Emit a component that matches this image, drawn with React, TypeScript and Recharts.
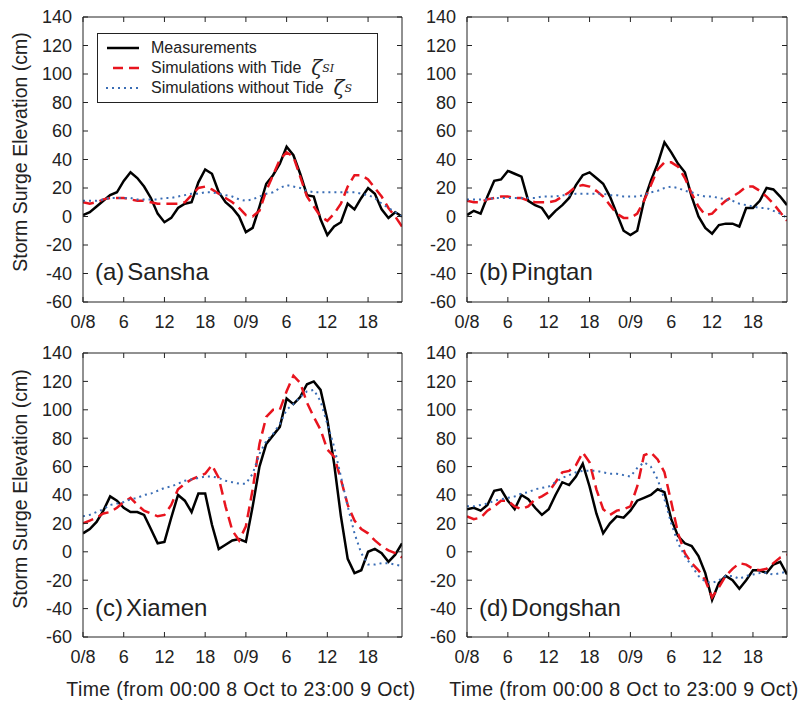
import { LineChart, Line, XAxis, YAxis, Legend } from 'recharts'

const FONT = '"Liberation Sans", Arial, sans-serif'
const INK = '#222'

const hours = [
  0, 1, 2, 3, 4, 5, 6, 7, 8, 9, 10, 11, 12, 13, 14, 15, 16, 17, 18, 19, 20, 21, 22, 23,
  24, 25, 26, 27, 28, 29, 30, 31, 32, 33, 34, 35, 36, 37, 38, 39, 40, 41, 42, 43, 44, 45, 46, 47,
]
const xTicks = [0, 6, 12, 18, 24, 30, 36, 42]
const xTickLabels = ['0/8', '6', '12', '18', '0/9', '6', '12', '18']
const yTicks = [-60, -40, -20, 0, 20, 40, 60, 80, 100, 120, 140]

// (a) Sansha
const sanshaMeas = [1, 3, 7, 11, 15, 17, 25, 31, 27, 21, 13, 2, -4, -1, 6, 9, 10, 24, 33, 30, 17, 10, 6, 0, -11, -8, 7, 23, 29, 37, 49, 43, 30, 15, 14, -2, -13, -7, -4, 9, 5, 13, 20, 16, 5, -1, 3, 0]
const sanshaTide = [10, 9, 10, 12, 13, 13, 13, 12, 11, 11, 10, 9, 9, 9, 9, 10, 15, 20, 21, 19, 16, 13, 10, 6, 1, 0, 4, 18, 29, 40, 45, 42, 28, 14, 7, 0, -3, 2, 9, 21, 29, 29, 26, 20, 14, 6, 0, -7]
const sanshaNoTide = [11, 11, 11, 12, 13, 13, 13, 13, 12, 12, 12, 12, 13, 13, 14, 15, 16, 16, 17, 17, 16, 15, 14, 12, 11, 12, 14, 16, 17, 20, 22, 21, 20, 18, 17, 17, 17, 17, 17, 17, 17, 16, 15, 13, 9, 6, 3, 0]

// (b) Pingtan
const pingtanMeas = [1, 4, 2, 14, 25, 26, 32, 30, 28, 11, 8, 6, -1, 4, 8, 13, 22, 29, 31, 27, 23, 14, 2, -10, -13, -10, 11, 25, 37, 52, 45, 37, 31, 14, 0, -8, -12, -6, -5, -5, -7, 6, 6, 11, 20, 19, 14, 8]
const pingtanTide = [11, 10, 10, 12, 13, 14, 14, 13, 13, 11, 10, 10, 10, 11, 14, 17, 21, 22, 21, 18, 14, 8, 2, -1, -1, 2, 11, 22, 33, 38, 38, 35, 27, 16, 7, 1, 2, 7, 11, 14, 17, 21, 21, 18, 14, 9, 3, -3]
const pingtanNoTide = [12, 12, 12, 12, 13, 13, 13, 13, 13, 13, 13, 14, 14, 14, 15, 15, 16, 16, 16, 16, 16, 15, 15, 14, 14, 14, 15, 17, 18, 20, 21, 20, 18, 17, 15, 14, 14, 13, 12, 11, 9, 8, 7, 6, 6, 4, 2, -1]

// (c) Xiamen
const xiamenMeas = [13, 16, 21, 29, 39, 36, 31, 28, 28, 26, 16, 6, 7, 24, 40, 36, 28, 41, 41, 19, 2, 5, 8, 9, 7, 32, 60, 76, 82, 88, 108, 104, 109, 118, 120, 114, 93, 62, 25, -5, -15, -13, 0, 2, -1, -7, -2, 6]
const xiamenTide = [20, 22, 24, 27, 28, 31, 35, 38, 33, 29, 27, 25, 26, 33, 44, 48, 51, 53, 55, 61, 52, 32, 15, 8, 18, 44, 76, 95, 100, 100, 113, 124, 119, 105, 95, 86, 72, 67, 51, 33, 22, 16, 13, 8, 4, 1, -1, -4]
const xiamenNoTide = [25, 26, 28, 30, 33, 34, 35, 37, 38, 40, 41, 43, 45, 46, 48, 50, 51, 52, 53, 53, 52, 50, 49, 48, 48, 55, 69, 78, 83, 90, 100, 104, 109, 113, 114, 106, 90, 74, 53, 32, 13, -1, -9, -9, -8, -8, -9, -10]

// (d) Dongshan
const dongshanMeas = [30, 31, 29, 33, 43, 44, 36, 30, 40, 37, 31, 26, 30, 40, 49, 47, 53, 62, 46, 27, 13, 20, 25, 24, 29, 36, 38, 40, 44, 42, 23, 11, 6, 4, -3, -15, -34, -22, -17, -20, -26, -20, -13, -13, -15, -9, -7, -16]
const dongshanTide = [25, 23, 24, 29, 32, 36, 36, 32, 30, 32, 37, 39, 42, 49, 56, 57, 61, 70, 63, 44, 30, 26, 29, 30, 32, 46, 68, 70, 65, 56, 35, 13, -1, -8, -13, -20, -32, -25, -17, -12, -8, -9, -12, -13, -12, -8, -4, -2]
const dongshanNoTide = [32, 32, 33, 34, 36, 37, 38, 39, 41, 42, 44, 45, 46, 49, 52, 54, 56, 57, 57, 57, 56, 55, 55, 54, 53, 59, 63, 60, 51, 37, 20, 6, -3, -10, -17, -21, -22, -20, -17, -17, -19, -17, -16, -15, -15, -16, -15, -14]

const W = 410
const H = 345

function LegendBox() {
  const row = { position: 'absolute' as const, left: 0, height: 20, display: 'flex', alignItems: 'center', whiteSpace: 'nowrap' as const }
  const zeta = { fontFamily: '"DejaVu Serif", serif', fontStyle: 'italic', fontSize: 20 }
  const sub = { fontFamily: '"DejaVu Serif", serif', fontStyle: 'italic', fontSize: 11, verticalAlign: -4 }
  return (
    <div style={{ width: 279, height: 68, border: `1px solid ${INK}`, background: '#fff', position: 'relative', fontFamily: FONT, fontSize: 16, color: INK }}>
      <div style={{ ...row, top: 4 }}>
        <svg width={50} height={20}><line x1={9} x2={41} y1={10} y2={10} stroke="#000" strokeWidth={2.5} /></svg>
        <span style={{ marginLeft: 3 }}>Measurements</span>
      </div>
      <div style={{ ...row, top: 24 }}>
        <svg width={50} height={20}><line x1={15} x2={41} y1={10} y2={10} stroke="#e8141e" strokeWidth={2.5} strokeDasharray="10 6" /></svg>
        <span style={{ marginLeft: 3 }}>Simulations with Tide</span>
        <span style={{ ...zeta, marginLeft: 10 }}>ζ</span><span style={sub}>SI</span>
      </div>
      <div style={{ ...row, top: 44 }}>
        <svg width={50} height={20}><line x1={8} x2={40} y1={10} y2={10} stroke="#3a6db5" strokeWidth={2} strokeDasharray="2 4" /></svg>
        <span style={{ marginLeft: 3 }}>Simulations without Tide</span>
        <span style={{ ...zeta, marginLeft: 10 }}>ζ</span><span style={sub}>S</span>
      </div>
    </div>
  )
}

interface PanelProps {
  plot: [number, number, number, number]
  meas: number[]
  tide: number[]
  noTide: number[]
  tag: string
  name: string
  legend?: boolean
}

function Panel({ plot, meas, tide, noTide, tag, name, legend }: PanelProps) {
  const [l, t, r, b] = plot
  const data = hours.map((h, i) => ({ h, meas: meas[i], tide: tide[i], noTide: noTide[i] }))
  const tickStyle = { fill: INK, fontSize: 18, fontFamily: FONT }
  return (
    <div style={{ position: 'absolute', left: l - 83, top: t - 17, width: W, height: H }}>
      <LineChart
        width={W}
        height={H}
        data={data}
        margin={{ top: 16, left: 82, right: W - 83 - (r - l) - 1, bottom: H - 17 - (b - t) - 1 }}
        style={{ fontFamily: FONT }}
      >
        <XAxis dataKey="h" type="number" domain={[0, 47]} ticks={xTicks} interval={0} allowDataOverflow
          tickFormatter={(v: number) => xTickLabels[xTicks.indexOf(v)]}
          height={1} tickSize={-5} tickMargin={18} stroke={INK} tick={tickStyle} />
        <XAxis xAxisId="top" orientation="top" dataKey="h" type="number" domain={[0, 47]} ticks={xTicks} interval={0} allowDataOverflow
          tickFormatter={() => ''} height={1} tickSize={-5} stroke={INK} />
        <YAxis type="number" domain={[-60, 140]} ticks={yTicks} interval={0} allowDataOverflow
          width={1} tickSize={-5} tickMargin={16} stroke={INK} tick={tickStyle} />
        <YAxis yAxisId="right" orientation="right" type="number" domain={[-60, 140]} ticks={yTicks} interval={0} allowDataOverflow
          tickFormatter={() => ''} width={1} tickSize={-5} stroke={INK} />
        {legend && (
          <Legend layout="vertical" align="center" verticalAlign="middle"
            wrapperStyle={{ left: 97 - (l - 83), top: 33 - (t - 17), width: 281 }}
            content={() => <LegendBox />} />
        )}
        <Line dataKey="meas" type="linear" stroke="#000" strokeWidth={2.5} dot={false} isAnimationActive={false} />
        <Line dataKey="tide" type="linear" stroke="#e8141e" strokeWidth={2.5} strokeDasharray="11 6" dot={false} isAnimationActive={false} />
        <Line dataKey="noTide" type="linear" stroke="#3a6db5" strokeWidth={2} strokeDasharray="2 4" dot={false} isAnimationActive={false} />
      </LineChart>
      <div style={{ position: 'absolute', left: 95, top: 258, fontFamily: FONT, fontSize: 24, color: INK, whiteSpace: 'nowrap', lineHeight: '28px' }}>
        {tag}<span style={{ marginLeft: 3 }}>{name}</span>
      </div>
    </div>
  )
}

export default function App() {
  return (
    <div style={{ position: 'absolute', left: 0, top: 0, width: 801, height: 702, overflow: 'hidden', background: '#fff' }}>
      <Panel plot={[83, 17, 402, 302]} meas={sanshaMeas} tide={sanshaTide} noTide={sanshaNoTide} tag="(a)" name="Sansha" legend />
      <Panel plot={[467, 17, 787, 302]} meas={pingtanMeas} tide={pingtanTide} noTide={pingtanNoTide} tag="(b)" name="Pingtan" />
      <Panel plot={[83, 353, 402, 637]} meas={xiamenMeas} tide={xiamenTide} noTide={xiamenNoTide} tag="(c)" name="Xiamen" />
      <Panel plot={[467, 353, 787, 637]} meas={dongshanMeas} tide={dongshanTide} noTide={dongshanNoTide} tag="(d)" name="Dongshan" />
      <svg width={801} height={702} style={{ position: 'absolute', left: 0, top: 0, pointerEvents: 'none', fontFamily: FONT }}>
        <text x={20} y={152} transform="rotate(-90 20 152)" textAnchor="middle" dominantBaseline="central" fontSize={19.5} fill={INK}>Storm Surge Elevation (cm)</text>
        <text x={20} y={489} transform="rotate(-90 20 489)" textAnchor="middle" dominantBaseline="central" fontSize={19.5} fill={INK}>Storm Surge Elevation (cm)</text>
        <text x={241} y={689} textAnchor="middle" dominantBaseline="central" fontSize={19.5} letterSpacing={0.4} fill={INK}>Time (from 00:00 8 Oct to 23:00 9 Oct)</text>
        <text x={624} y={689} textAnchor="middle" dominantBaseline="central" fontSize={19.5} letterSpacing={0.4} fill={INK}>Time (from 00:00 8 Oct to 23:00 9 Oct)</text>
      </svg>
    </div>
  )
}
